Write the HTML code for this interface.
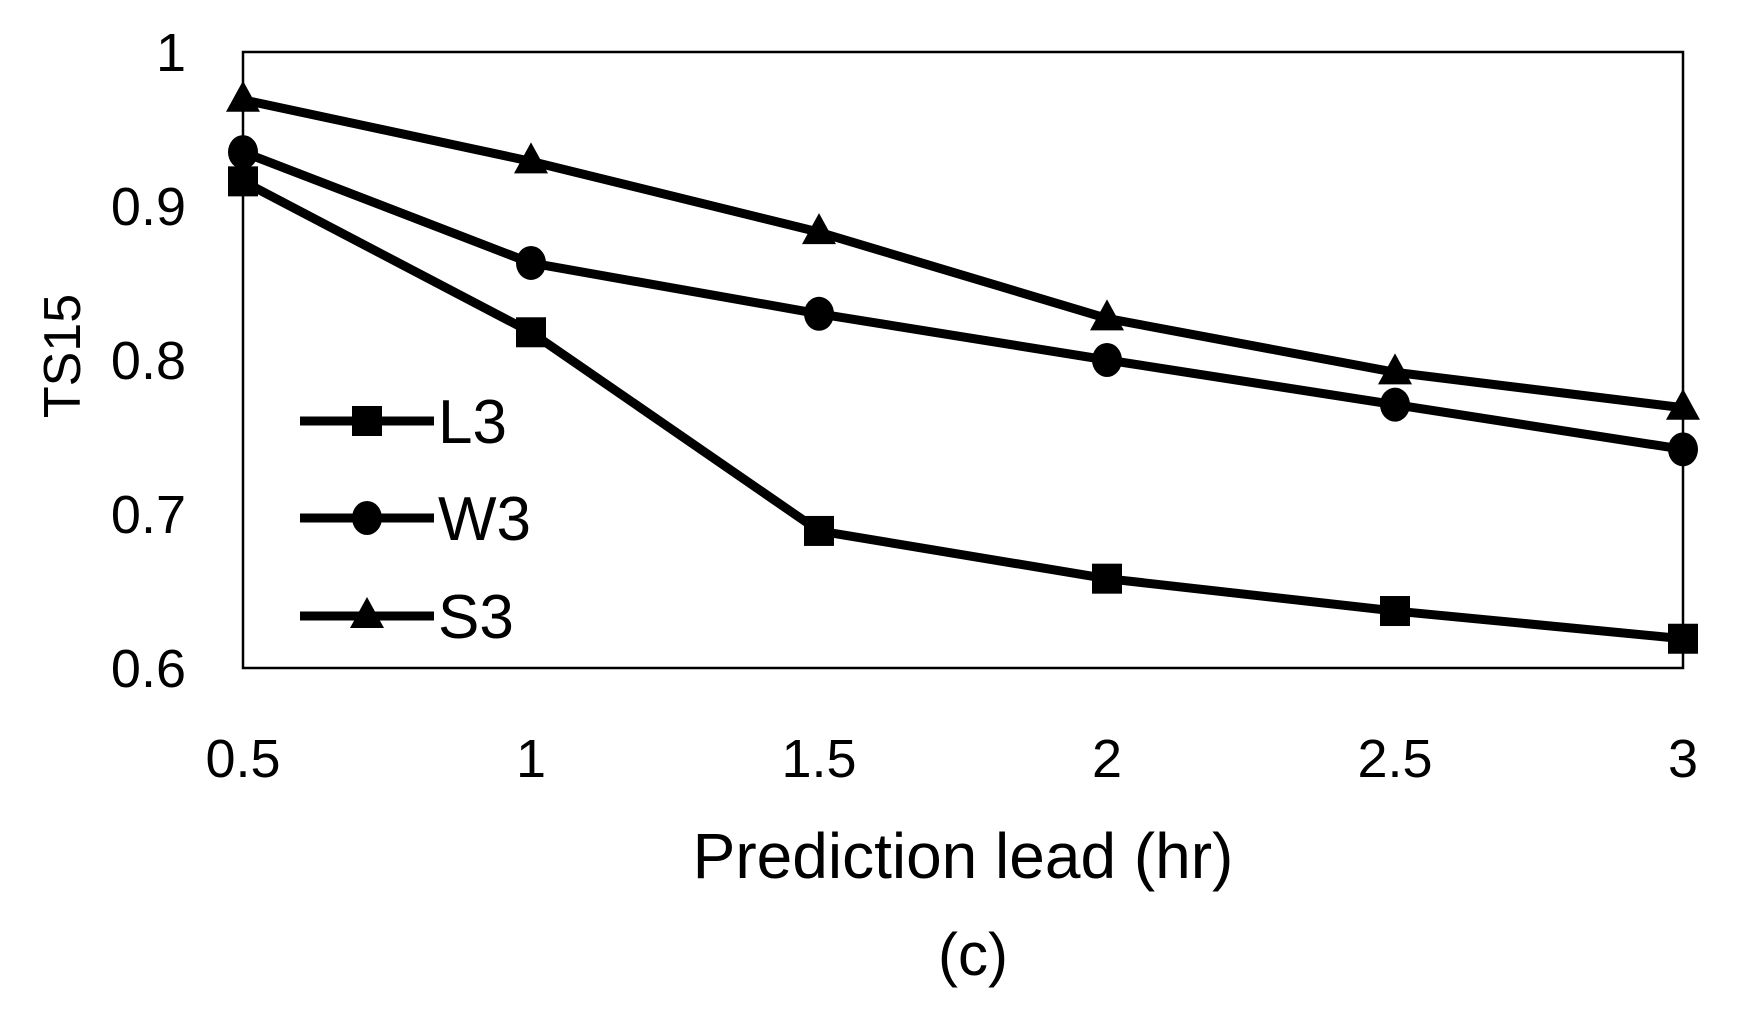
<!DOCTYPE html>
<html><head><meta charset="utf-8"><style>
html,body{margin:0;padding:0;background:#fff;}
svg{display:block;font-family:"Liberation Sans Narrow","Liberation Sans",sans-serif;}
</style></head><body>
<svg id="chart" width="1746" height="1017"></svg>
<script>
const categories = [0.5, 1, 1.5, 2, 2.5, 3];
const xTickLabels = ["0.5", "1", "1.5", "2", "2.5", "3"];
const yTicks = [0.6, 0.7, 0.8, 0.9, 1.0];
const yTickLabels = ["0.6", "0.7", "0.8", "0.9", "1"];
const seriesL3 = [0.916, 0.818, 0.689, 0.658, 0.637, 0.619];
const seriesW3 = [0.935, 0.863, 0.830, 0.800, 0.771, 0.742];
const seriesS3 = [0.969, 0.929, 0.883, 0.827, 0.792, 0.769];
const seriesNames = ["L3", "W3", "S3"];

const NS = "http://www.w3.org/2000/svg";
const svg = document.getElementById("chart");
const L = 243, R = 1683, T = 52, B = 668;
const xS = v => L + (v - 0.5) / 2.5 * (R - L);
const yS = v => B - (v - 0.6) / 0.4 * (B - T);
function mk(tag, attrs, parent) {
  const e = document.createElementNS(NS, tag);
  for (const k in attrs) e.setAttribute(k, attrs[k]);
  (parent || svg).appendChild(e);
  return e;
}
const frame = mk("rect", {x: L, y: T, width: R - L, height: B - T, fill: "none", stroke: "#000", "stroke-width": 2.5});



yTicks.forEach((v, i) => {
  const t = mk("text", {x: 186, y: yS(v) + 19, "text-anchor": "end", "font-size": 54, fill: "#000"});
  t.textContent = yTickLabels[i];
  
  
});
categories.forEach((v, i) => {
  const t = mk("text", {x: xS(v), y: 777, "text-anchor": "middle", "font-size": 54, fill: "#000"});
  t.textContent = xTickLabels[i];
  
  
});

function marker(kind, x, y, g) {
  if (kind === "L3") return mk("rect", {x: x - 15, y: y - 15, width: 30, height: 30, fill: "#000"}, g);
  if (kind === "W3") return mk("ellipse", {cx: x, cy: y, rx: 15, ry: 17, fill: "#000"}, g);
  return mk("polygon", {points: `${x},${y-19} ${x+17},${y+12} ${x-17},${y+12}`, fill: "#000"}, g);
}
[[seriesL3, "L3"], [seriesW3, "W3"], [seriesS3, "S3"]].forEach(([vals, name]) => {
  const g = mk("g", {});
  
  
  const pts = vals.map((v, i) => xS(categories[i]) + "," + yS(v)).join(" ");
  mk("polyline", {points: pts, fill: "none", stroke: "#000", "stroke-width": 9, "stroke-linejoin": "round"}, g);
  vals.forEach((v, i) => {
    const m = marker(name, xS(categories[i]), yS(v), g);
    
    
  });
});

const legendY = [421, 518, 616];
seriesNames.forEach((name, i) => {
  const g = mk("g", {});
  
  
  mk("line", {x1: 300, y1: legendY[i], x2: 434, y2: legendY[i], stroke: "#000", "stroke-width": 9}, g);
  marker(name, 367, legendY[i], g);
  const t = mk("text", {x: 438, y: legendY[i] + 22, "font-size": 62, fill: "#000"}, g);
  t.textContent = name;
});

const xt = mk("text", {x: 963, y: 878, "text-anchor": "middle", "font-size": 64, fill: "#000"});
xt.textContent = "Prediction lead (hr)";


const yt = mk("text", {x: 0, y: 0, "text-anchor": "middle", "font-size": 52, fill: "#000", transform: "translate(80,356) rotate(-90)"});
yt.textContent = "TS15";


const cap = mk("text", {x: 973, y: 975, "text-anchor": "middle", "font-size": 60, fill: "#000"});
cap.textContent = "(c)";


</script>
</body></html>
